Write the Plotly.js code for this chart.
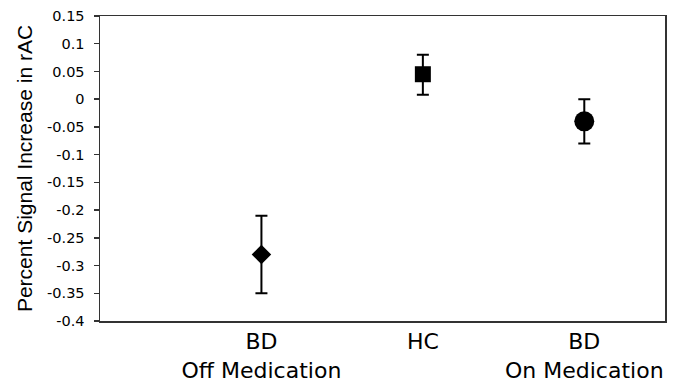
<!DOCTYPE html>
<html>
<head>
<meta charset="utf-8">
<script src="https://cdn.plot.ly/plotly-3.0.1.min.js"></script>
<style>html,body{margin:0;padding:0;background:#fff;}#chart{width:678px;height:382px;}</style>
</head>
<body>
<div id="chart"></div>
<script>
var groups = ["BD<br>Off Medication", "HC", "BD<br>On Medication"];
var groupPos = [1, 2, 3];
var meanValues = [-0.28, 0.045, -0.04];
var errUpper = [0.07, 0.035, 0.04];
var errLower = [0.07, 0.037, 0.04];
var markerSymbols = ["diamond", "square", "circle"];
var markerSizes = [15, 16, 20];
var yTickVals = [0.15, 0.1, 0.05, 0, -0.05, -0.1, -0.15, -0.2, -0.25, -0.3, -0.35, -0.4];
var yTickText = ["0.15", "0.1", "0.05", "0", "-0.05", "-0.1", "-0.15", "-0.2", "-0.25", "-0.3", "-0.35", "-0.4"];

var trace = {
  type: "scatter",
  mode: "markers",
  x: groupPos,
  y: meanValues,
  marker: {symbol: markerSymbols, size: markerSizes, color: "#000", opacity: 1, line: {width: 0}},
  error_y: {type: "data", symmetric: false, array: errUpper, arrayminus: errLower,
            color: "#000", thickness: 2, width: 6},
  showlegend: false,
  hoverinfo: "none"
};

var layout = {
  width: 678, height: 382,
  margin: {l: 100, r: 13, t: 16, b: 61},
  paper_bgcolor: "#fff", plot_bgcolor: "#fff",
  font: {family: "Arial, Liberation Sans, sans-serif", color: "#000"},
  xaxis: {
    range: [0, 3.5], tickvals: groupPos, ticktext: groups,
    showgrid: false, zeroline: false, ticks: "",
    showline: true, mirror: true, linecolor: "#333", linewidth: 1.5,
    tickfont: {family: "DejaVu Sans, sans-serif", size: 22, color: "#000"}
  },
  yaxis: {
    range: [-0.4, 0.15], tickvals: yTickVals, ticktext: yTickText,
    showgrid: false, zeroline: false, ticks: "outside", ticklen: 5, tickcolor: "#333", tickwidth: 1.5,
    ticklabelstandoff: 6,
    showline: true, mirror: true, linecolor: "#333", linewidth: 1.5,
    tickfont: {family: "DejaVu Sans, sans-serif", size: 14.5, color: "#000"},
    title: {text: "Percent Signal Increase in rAC", font: {size: 21, color: "#000"}, standoff: 8}
  }
};

Plotly.newPlot("chart", [trace], layout, {displayModeBar: false, staticPlot: true});
</script>
</body>
</html>
